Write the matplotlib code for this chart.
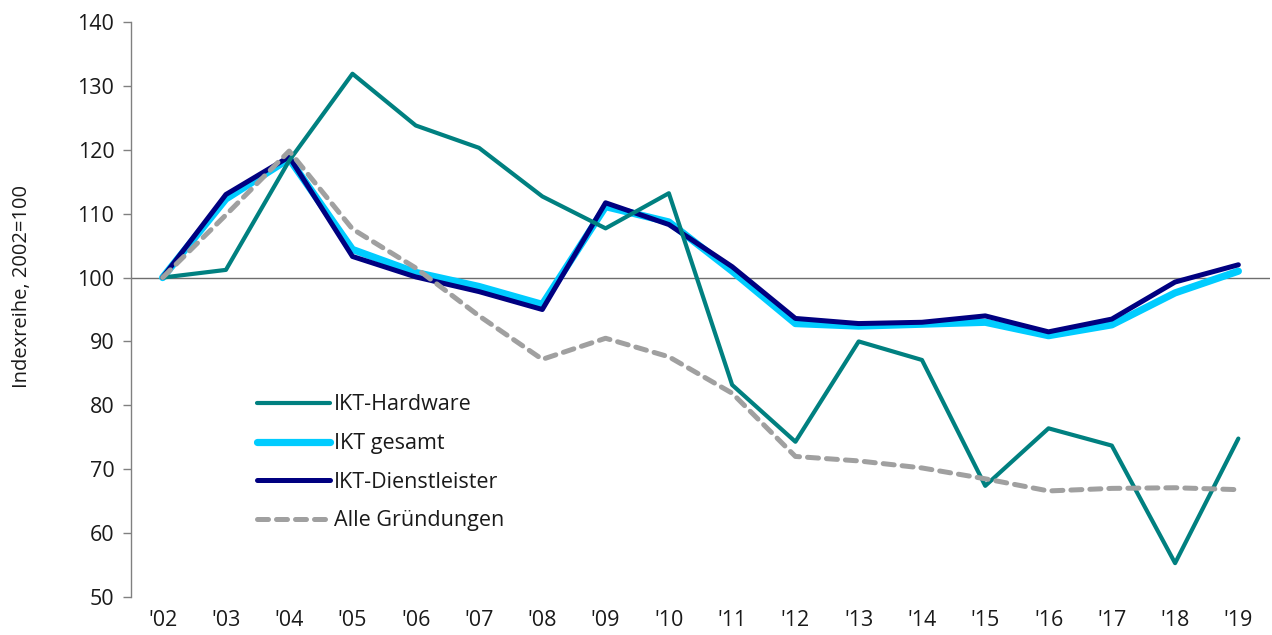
import matplotlib.pyplot as plt

plt.rcParams['font.family'] = ['Open Sans', 'DejaVu Sans']

# === Data ===
years = ["'02", "'03", "'04", "'05", "'06", "'07", "'08", "'09", "'10",
         "'11", "'12", "'13", "'14", "'15", "'16", "'17", "'18", "'19"]

ikt_hardware = [100, 101.2, 118.3, 131.9, 123.8, 120.3, 112.7, 107.7, 113.2,
                83.2, 74.3, 90.0, 87.1, 67.4, 76.4, 73.7, 55.3, 74.8]
ikt_gesamt = [100, 112.3, 118.6, 104.4, 100.8, 98.6, 95.8, 111.1, 108.7,
              101.0, 92.8, 92.4, 92.7, 93.0, 90.9, 92.6, 97.6, 101.0]
ikt_dienst = [100, 113.0, 118.9, 103.3, 100.1, 97.8, 95.0, 111.7, 108.3,
              101.7, 93.6, 92.8, 93.0, 94.0, 91.5, 93.5, 99.3, 102.0]
alle_gruendungen = [100, 109.8, 119.8, 107.6, 101.5, 94.0, 87.2, 90.5, 87.6,
                    81.9, 72.0, 71.3, 70.2, 68.5, 66.6, 67.0, 67.1, 66.8]

# === Figure ===
fig = plt.figure(figsize=(12.72, 6.35), dpi=100)
ax = fig.add_axes([131 / 1272, 1 - 597 / 635, (1270 - 131) / 1272, (597 - 22) / 635])

x = list(range(len(years)))

ax.axhline(100, color='#6e6e6e', linewidth=1.0, zorder=1)

l_gesamt, = ax.plot(x, ikt_gesamt, color='#00CCFF', linewidth=5.2, zorder=2,
                    solid_capstyle='round', label='IKT gesamt')
l_dienst, = ax.plot(x, ikt_dienst, color='#000080', linewidth=3.6, zorder=3,
                    solid_capstyle='round', label='IKT-Dienstleister')
l_hw, = ax.plot(x, ikt_hardware, color='#008080', linewidth=3.0, zorder=4,
                solid_capstyle='round', label='IKT-Hardware')
l_alle, = ax.plot(x, alle_gruendungen, color='#A0A0A0', linewidth=3.6, zorder=5,
                  linestyle=(0, (2.2, 1.6)), dash_capstyle='round',
                  label='Alle Gründungen')

ax.set_xlim(-0.5, len(years) - 0.5)
ax.set_ylim(50, 140)
ax.set_yticks(range(50, 141, 10))
ax.set_xticks(x)
ax.set_xticklabels(years)

for side in ['top', 'right', 'bottom']:
    ax.spines[side].set_visible(False)
ax.spines['left'].set_color('#808080')
ax.spines['left'].set_linewidth(1.0)

ax.tick_params(axis='y', direction='out', length=6, width=1, color='#808080',
               labelsize=15.5, pad=6, labelcolor='#1a1a1a')
ax.tick_params(axis='x', length=0, labelsize=15.5, pad=9, labelcolor='#1a1a1a')

ax.set_ylabel('Indexreihe, 2002=100', fontsize=14.5, color='#1a1a1a')
ax.yaxis.set_label_coords(-0.087, 0.54)

leg = ax.legend(handles=[l_hw, l_gesamt, l_dienst, l_alle], loc='upper left',
                bbox_to_anchor=(0.094, 0.386), frameon=False,
                prop={'size': 15.5}, handlelength=3.35, handletextpad=0.2,
                labelspacing=0.82)
for t in leg.get_texts():
    t.set_color('#1a1a1a')

fig.savefig('out.png', dpi=100)
